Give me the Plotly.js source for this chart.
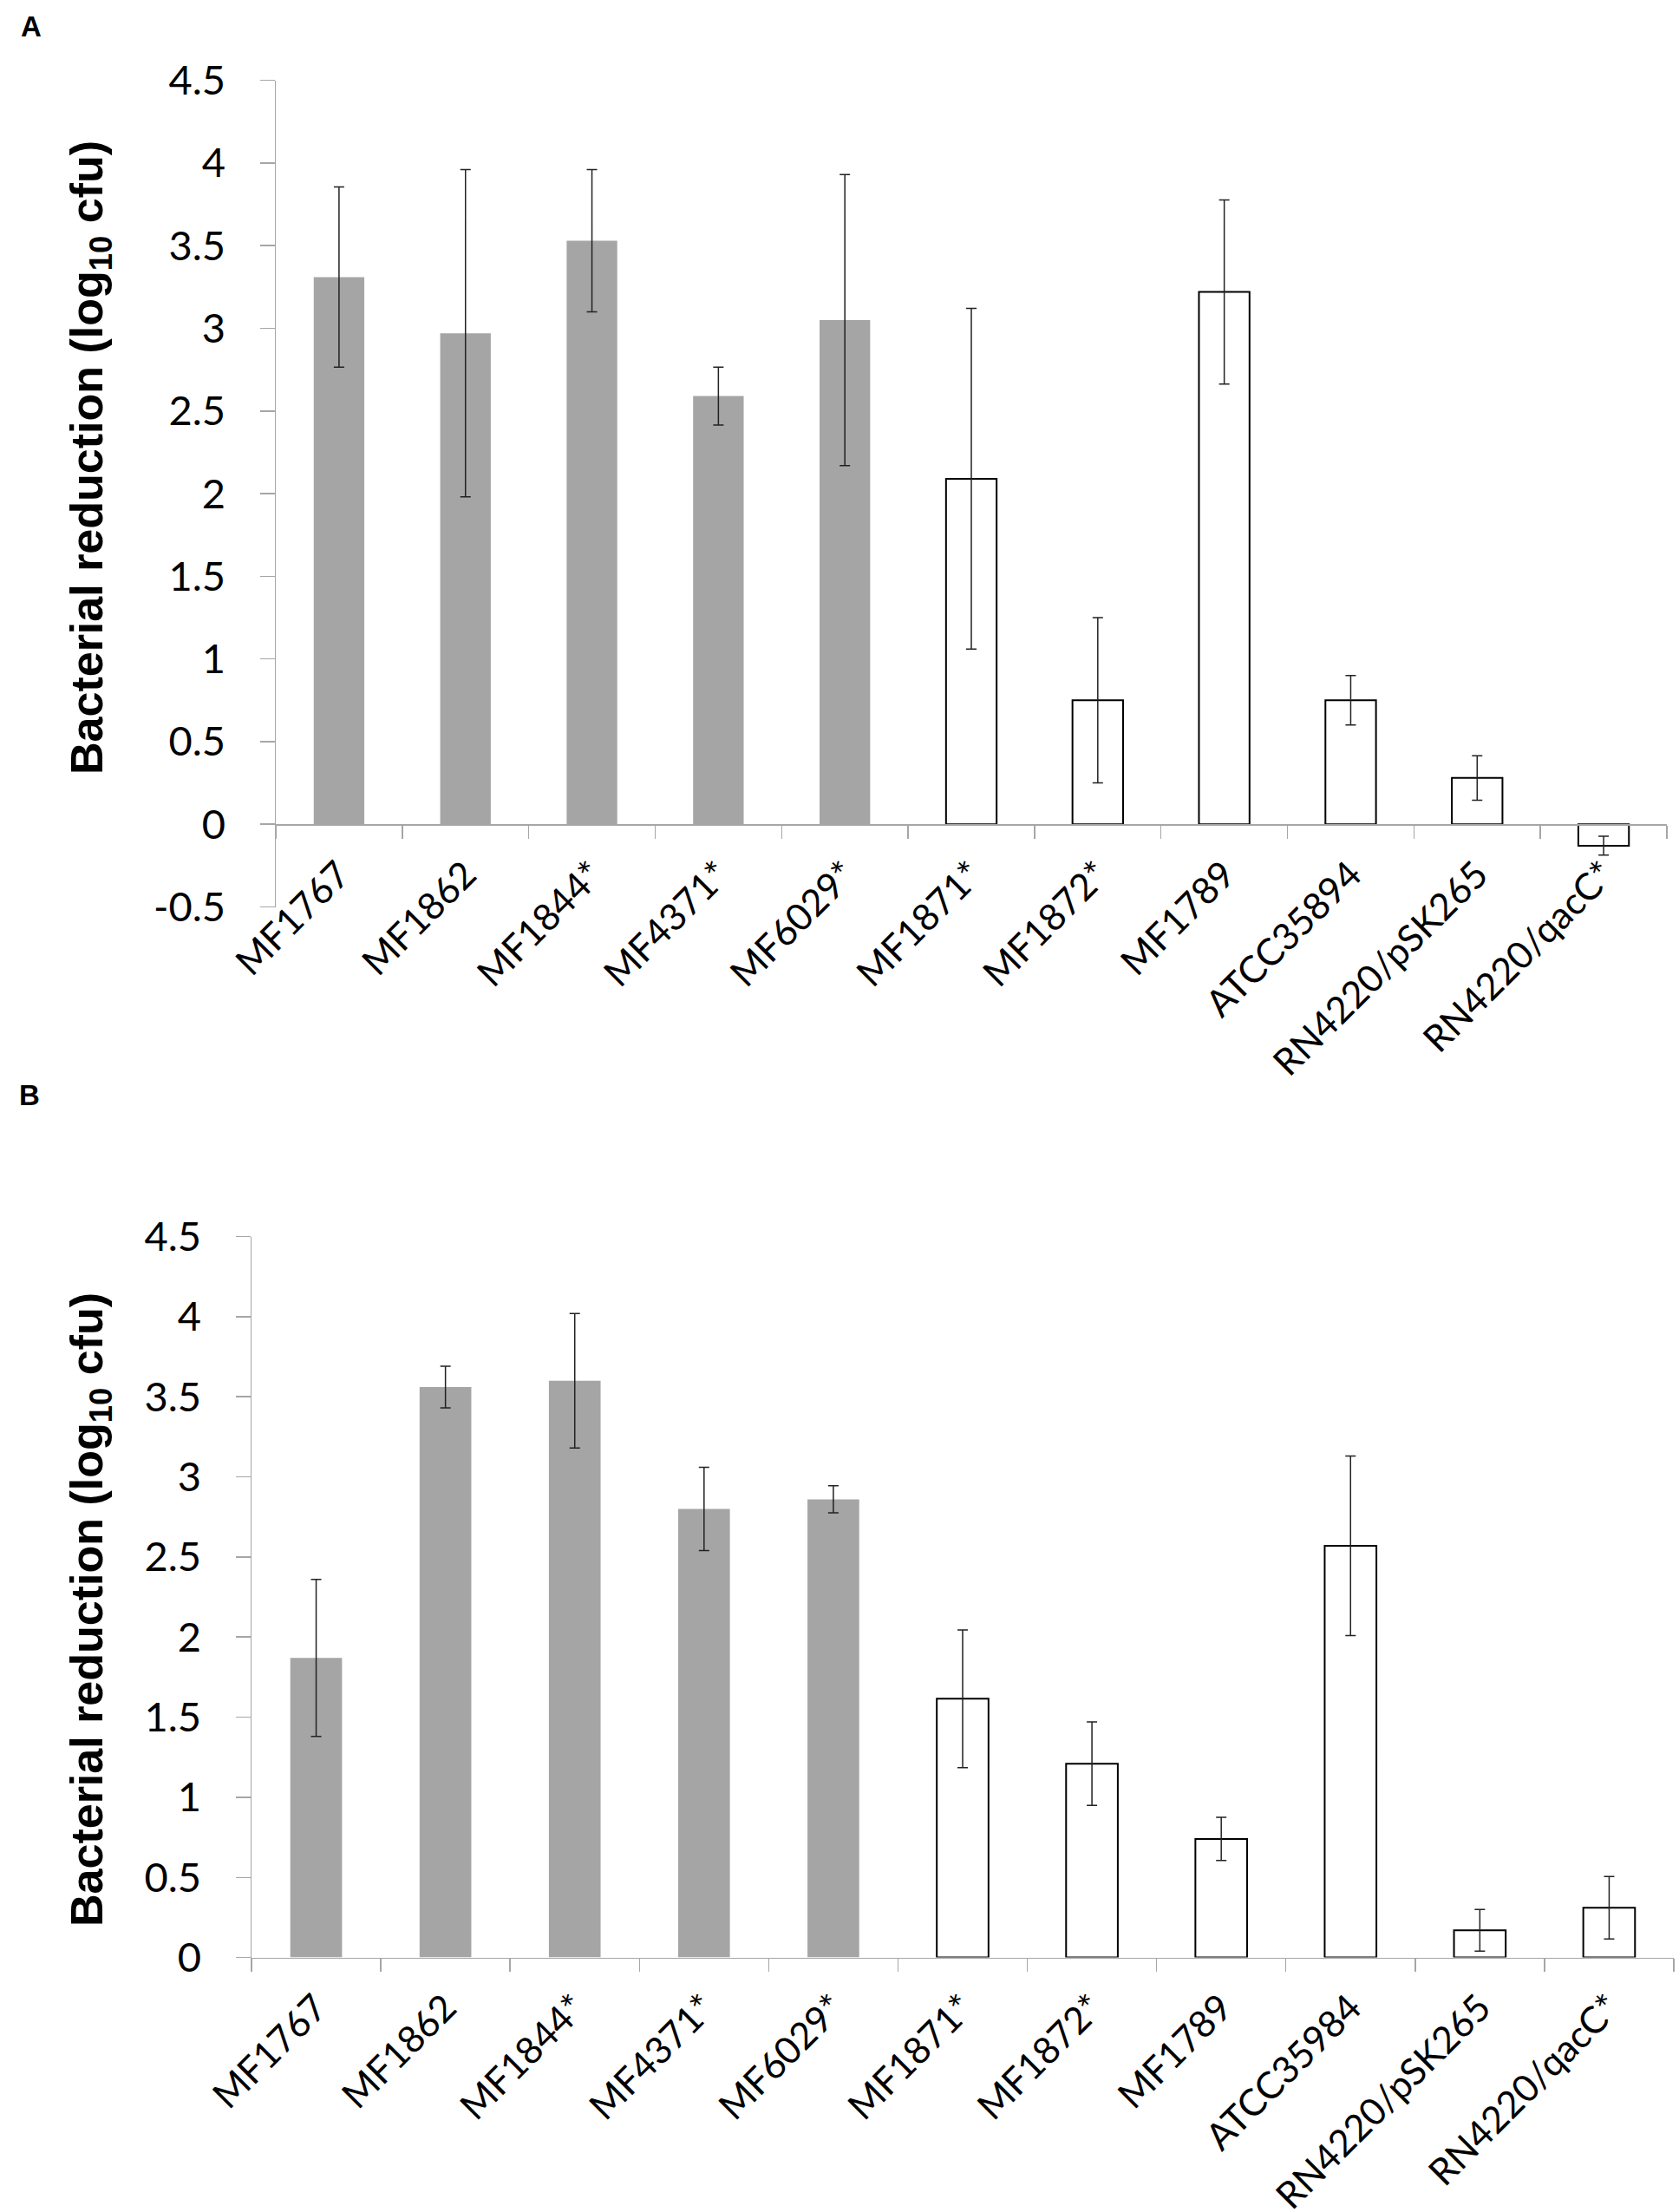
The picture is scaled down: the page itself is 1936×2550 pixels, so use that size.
<!DOCTYPE html>
<html>
<head>
<meta charset="utf-8">
<script src="https://cdn.plot.ly/plotly-3.0.1.min.js"></script>
<style>html,body{margin:0;padding:0;background:#fff;}#chart{width:1936px;height:2550px;}</style>
</head>
<body>
<div id="chart"></div>
<script>
// ---- Data ----
const categoriesA = ['MF1767','MF1862','MF1844*','MF4371*','MF6029*','MF1871*','MF1872*','MF1789','ATCC35894','RN4220/pSK265','RN4220/qacC*'];
const valuesA = [3.31, 2.97, 3.53, 2.59, 3.05, 2.09, 0.75, 3.22, 0.75, 0.28, -0.13];
const errorsA = [0.545, 0.99, 0.43, 0.175, 0.88, 1.03, 0.50, 0.557, 0.15, 0.134, 0.057];

const categoriesB = ['MF1767','MF1862','MF1844*','MF4371*','MF6029*','MF1871*','MF1872*','MF1789','ATCC35984','RN4220/pSK265','RN4220/qacC*'];
const valuesB = [1.87, 3.56, 3.60, 2.80, 2.86, 1.615, 1.21, 0.74, 2.57, 0.17, 0.31];
const errorsB = [0.49, 0.13, 0.42, 0.26, 0.085, 0.43, 0.26, 0.135, 0.56, 0.13, 0.195];

const tickValsA = [-0.5, 0, 0.5, 1, 1.5, 2, 2.5, 3, 3.5, 4, 4.5];
const tickTextA = ['-0.5', '0', '0.5', '1', '1.5', '2', '2.5', '3', '3.5', '4', '4.5'];
const tickValsB = [0, 0.5, 1, 1.5, 2, 2.5, 3, 3.5, 4, 4.5];
const tickTextB = ['0', '0.5', '1', '1.5', '2', '2.5', '3', '3.5', '4', '4.5'];

const greyCount = 5; // first five strains drawn as filled grey bars

const yTitle = 'Bacterial reduction (log<sub>10</sub> cfu)';
const panelLabels = ['A', 'B'];

// ---- Styles ----
const W = 1936, H = 2550;
const GREY = '#a5a5a5';
const AXIS = '#a6a6a6';
const tickFont = {family: 'Lato, Carlito, Calibri, sans-serif', size: 47, color: '#000'};
const xTickFont = {family: 'Lato, Carlito, Calibri, sans-serif', size: 43, color: '#000'};
const errStyle = (arr) => ({type: 'data', array: arr, visible: true, color: '#222', thickness: 1.5, width: 6});

function px(x){ return x / W; }
function py(y){ return 1 - y / H; }

function barTraces(cats, vals, errs, xa, ya){
  return [
    {type: 'bar', x: cats.slice(0, greyCount), y: vals.slice(0, greyCount),
     error_y: errStyle(errs.slice(0, greyCount)),
     marker: {color: GREY, line: {width: 0}}, xaxis: xa, yaxis: ya, hoverinfo: 'x+y'},
    {type: 'bar', x: cats.slice(greyCount), y: vals.slice(greyCount),
     error_y: errStyle(errs.slice(greyCount)),
     marker: {color: '#ffffff', line: {width: 2, color: '#000'}}, xaxis: xa, yaxis: ya, hoverinfo: 'x+y'}
  ];
}

const data = [].concat(
  barTraces(categoriesA, valuesA, errorsA, 'x', 'y'),
  barTraces(categoriesB, valuesB, errorsB, 'x2', 'y2')
);

// panel geometry (pixels)
const A = {left: 318, right: 1922, top: 92.6, bottom: 1045.5, ymin: -0.5, ymax: 4.5};
const B = {left: 290, right: 1930, top: 1425.5, bottom: 2256.6, ymin: 0, ymax: 4.5};
const yDomA = [py(A.bottom), py(A.top)];
const yDomB = [py(B.bottom), py(B.top)];
const zeroPosA = yDomA[0] + (0 - A.ymin) / (A.ymax - A.ymin) * (yDomA[1] - yDomA[0]);

function xAxis(cats, dom){
  return {
    domain: dom, type: 'category', categoryorder: 'array', categoryarray: cats,
    range: [-0.5, cats.length - 0.5], tickson: 'boundaries', ticks: 'outside', ticklen: 15,
    tickwidth: 1.5, tickcolor: AXIS, showline: true, linecolor: AXIS, linewidth: 1.5,
    showgrid: false, zeroline: false, tickangle: -45, tickfont: xTickFont,
    ticklabelstandoff: 14, fixedrange: true
  };
}
function yAxis(dom, rng, vals, text){
  return {
    domain: dom, range: rng, tickmode: 'array', tickvals: vals, ticktext: text,
    ticks: 'outside', ticklen: 17,
    tickwidth: 1.5, tickcolor: AXIS, showline: true, linecolor: AXIS, linewidth: 1.5,
    showgrid: false, zeroline: false, tickfont: tickFont, ticklabelstandoff: 30,
    fixedrange: true
  };
}

const xa = xAxis(categoriesA, [px(A.left), px(A.right)]);
xa.anchor = 'free';
xa.position = zeroPosA;
const ya = yAxis(yDomA, [A.ymin, A.ymax], tickValsA, tickTextA);
ya.anchor = 'x';
const xb = xAxis(categoriesB, [px(B.left), px(B.right)]);
xb.anchor = 'y2';
const yb = yAxis(yDomB, [B.ymin, B.ymax], tickValsB, tickTextB);
yb.anchor = 'x2';

const titleFont = {family: 'Liberation Sans, Arial, sans-serif', size: 52, color: '#000', weight: 'bold'};
const labelFont = {family: 'Liberation Sans, Arial, sans-serif', size: 33, color: '#000', weight: 'bold'};

const layout = {
  width: W, height: H, margin: {l: 0, r: 0, t: 0, b: 0},
  paper_bgcolor: '#fff', plot_bgcolor: '#fff', showlegend: false,
  barmode: 'overlay', bargap: 0.6,
  xaxis: xa, yaxis: ya, xaxis2: xb, yaxis2: yb,
  annotations: [
    {text: yTitle, textangle: -90, xref: 'paper', yref: 'paper', x: px(104), y: py(528),
     xanchor: 'center', yanchor: 'middle', showarrow: false, font: titleFont},
    {text: yTitle, textangle: -90, xref: 'paper', yref: 'paper', x: px(104), y: py(1856),
     xanchor: 'center', yanchor: 'middle', showarrow: false, font: titleFont},
    {text: panelLabels[0], xref: 'paper', yref: 'paper', x: px(22), y: py(10),
     xanchor: 'left', yanchor: 'top', showarrow: false, font: labelFont},
    {text: panelLabels[1], xref: 'paper', yref: 'paper', x: px(20), y: py(1242),
     xanchor: 'left', yanchor: 'top', showarrow: false, font: labelFont}
  ]
};

Plotly.newPlot('chart', data, layout, {displayModeBar: false, staticPlot: true});
</script>
</body>
</html>
